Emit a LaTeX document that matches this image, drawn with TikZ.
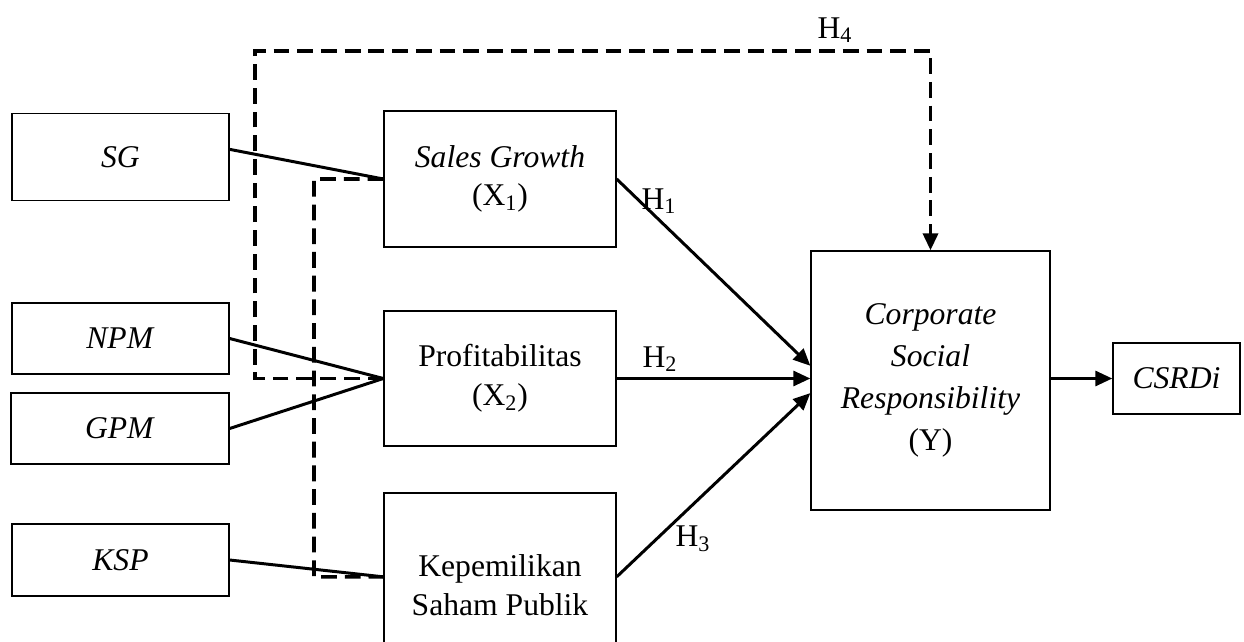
\documentclass[tikz,border=0pt]{standalone}
\usepackage{fontspec}
\setmainfont{Liberation Serif}
\usetikzlibrary{arrows.meta}

\begin{document}
\begin{tikzpicture}[
            x=0.02cm, y=-0.02cm,
            box/.style={draw, line width=0.8pt, align=center, inner sep=0pt,
                font=\fontsize{18}{22}\selectfont},
            ind/.style={box, minimum width=4.34cm, minimum height=1.42cm},
            var/.style={box, minimum width=4.64cm},
            link/.style={line width=1.7pt},
            hyp/.style={line width=1.7pt, -{Triangle[length=3.4mm, width=3mm]}},
            dashlink/.style={line width=2pt, dash pattern=on 9pt off 4.5pt},
            lab/.style={font=\fontsize{18}{22}\selectfont, inner sep=0pt}
        ]
        \useasboundingbox (0,0) rectangle (1244,642);

        % coordinates
        \coordinate (outer) at (255,51);
        \coordinate (inner) at (314,577);

        % indicators
        \node[ind, minimum height=1.74cm] (sg)  at (120.5,157)   {\textit{SG}};
        \node[ind]                        (npm) at (120.5,338.5) {\textit{NPM}};
        \node[ind, minimum width=4.36cm]  (gpm) at (120,428.5)   {\textit{GPM}};
        \node[ind, minimum height=1.44cm] (ksp) at (120.5,560)   {\textit{KSP}};

        % variables
        \node[var, minimum height=2.72cm] (sales)  at (500,179)
            {\textit{Sales Growth}\\(X\textsubscript{1})};
        \node[var, minimum height=2.70cm] (profit) at (500,378.5)
            {Profitabilitas\\(X\textsubscript{2})};
        \node[var, minimum height=3.68cm] (kep)    at (500,585)
            {Kepemilikan\\Saham Publik};

        \node[box, minimum width=4.78cm, minimum height=5.18cm,
            font=\fontsize{18}{24}\selectfont] (csr) at (930.5,380.5)
            {\raisebox{-5pt}{\parbox{4.6cm}{\centering
                \textit{Corporate}\\\textit{Social}\\\textit{Responsibility}\\(Y)}}};
        \node[box, minimum width=2.54cm, minimum height=1.42cm] (csrdi) at (1176.5,378.5)
            {\textit{CSRDi}};

        % edges
        \draw[link] (sg.4)   -- (sales.west);
        \draw[link] (npm.east) -- (profit.west);
        \draw[link] (gpm.east) -- (profit.west);
        \draw[link] (ksp.east) -- (kep.176);

        \draw[dashlink] (sales.west) -| (inner) -- (kep.176);
        \draw[dashlink, -{Triangle[length=3.4mm, width=3mm]}]
            (profit.west) -| (outer) -| (csr.north);

        \draw[hyp] (sales.east)  -- (csr.173);
        \draw[hyp] (profit.east) -- (profit.east -| csr.west);
        \draw[hyp] (kep.4)       -- (csr.186);
        \draw[hyp] (csrdi.west -| csr.east) -- (csrdi.west);

        % labels
        \node[lab] (h1) at (659,201) {H\textsubscript{1}};
        \node[lab] (h2) at (660,359) {H\textsubscript{2}};
        \node[lab] (h3) at (693,539) {H\textsubscript{3}};
        \node[lab] (h4) at (835,30)  {H\textsubscript{4}};
    \end{tikzpicture}
\end{document}
